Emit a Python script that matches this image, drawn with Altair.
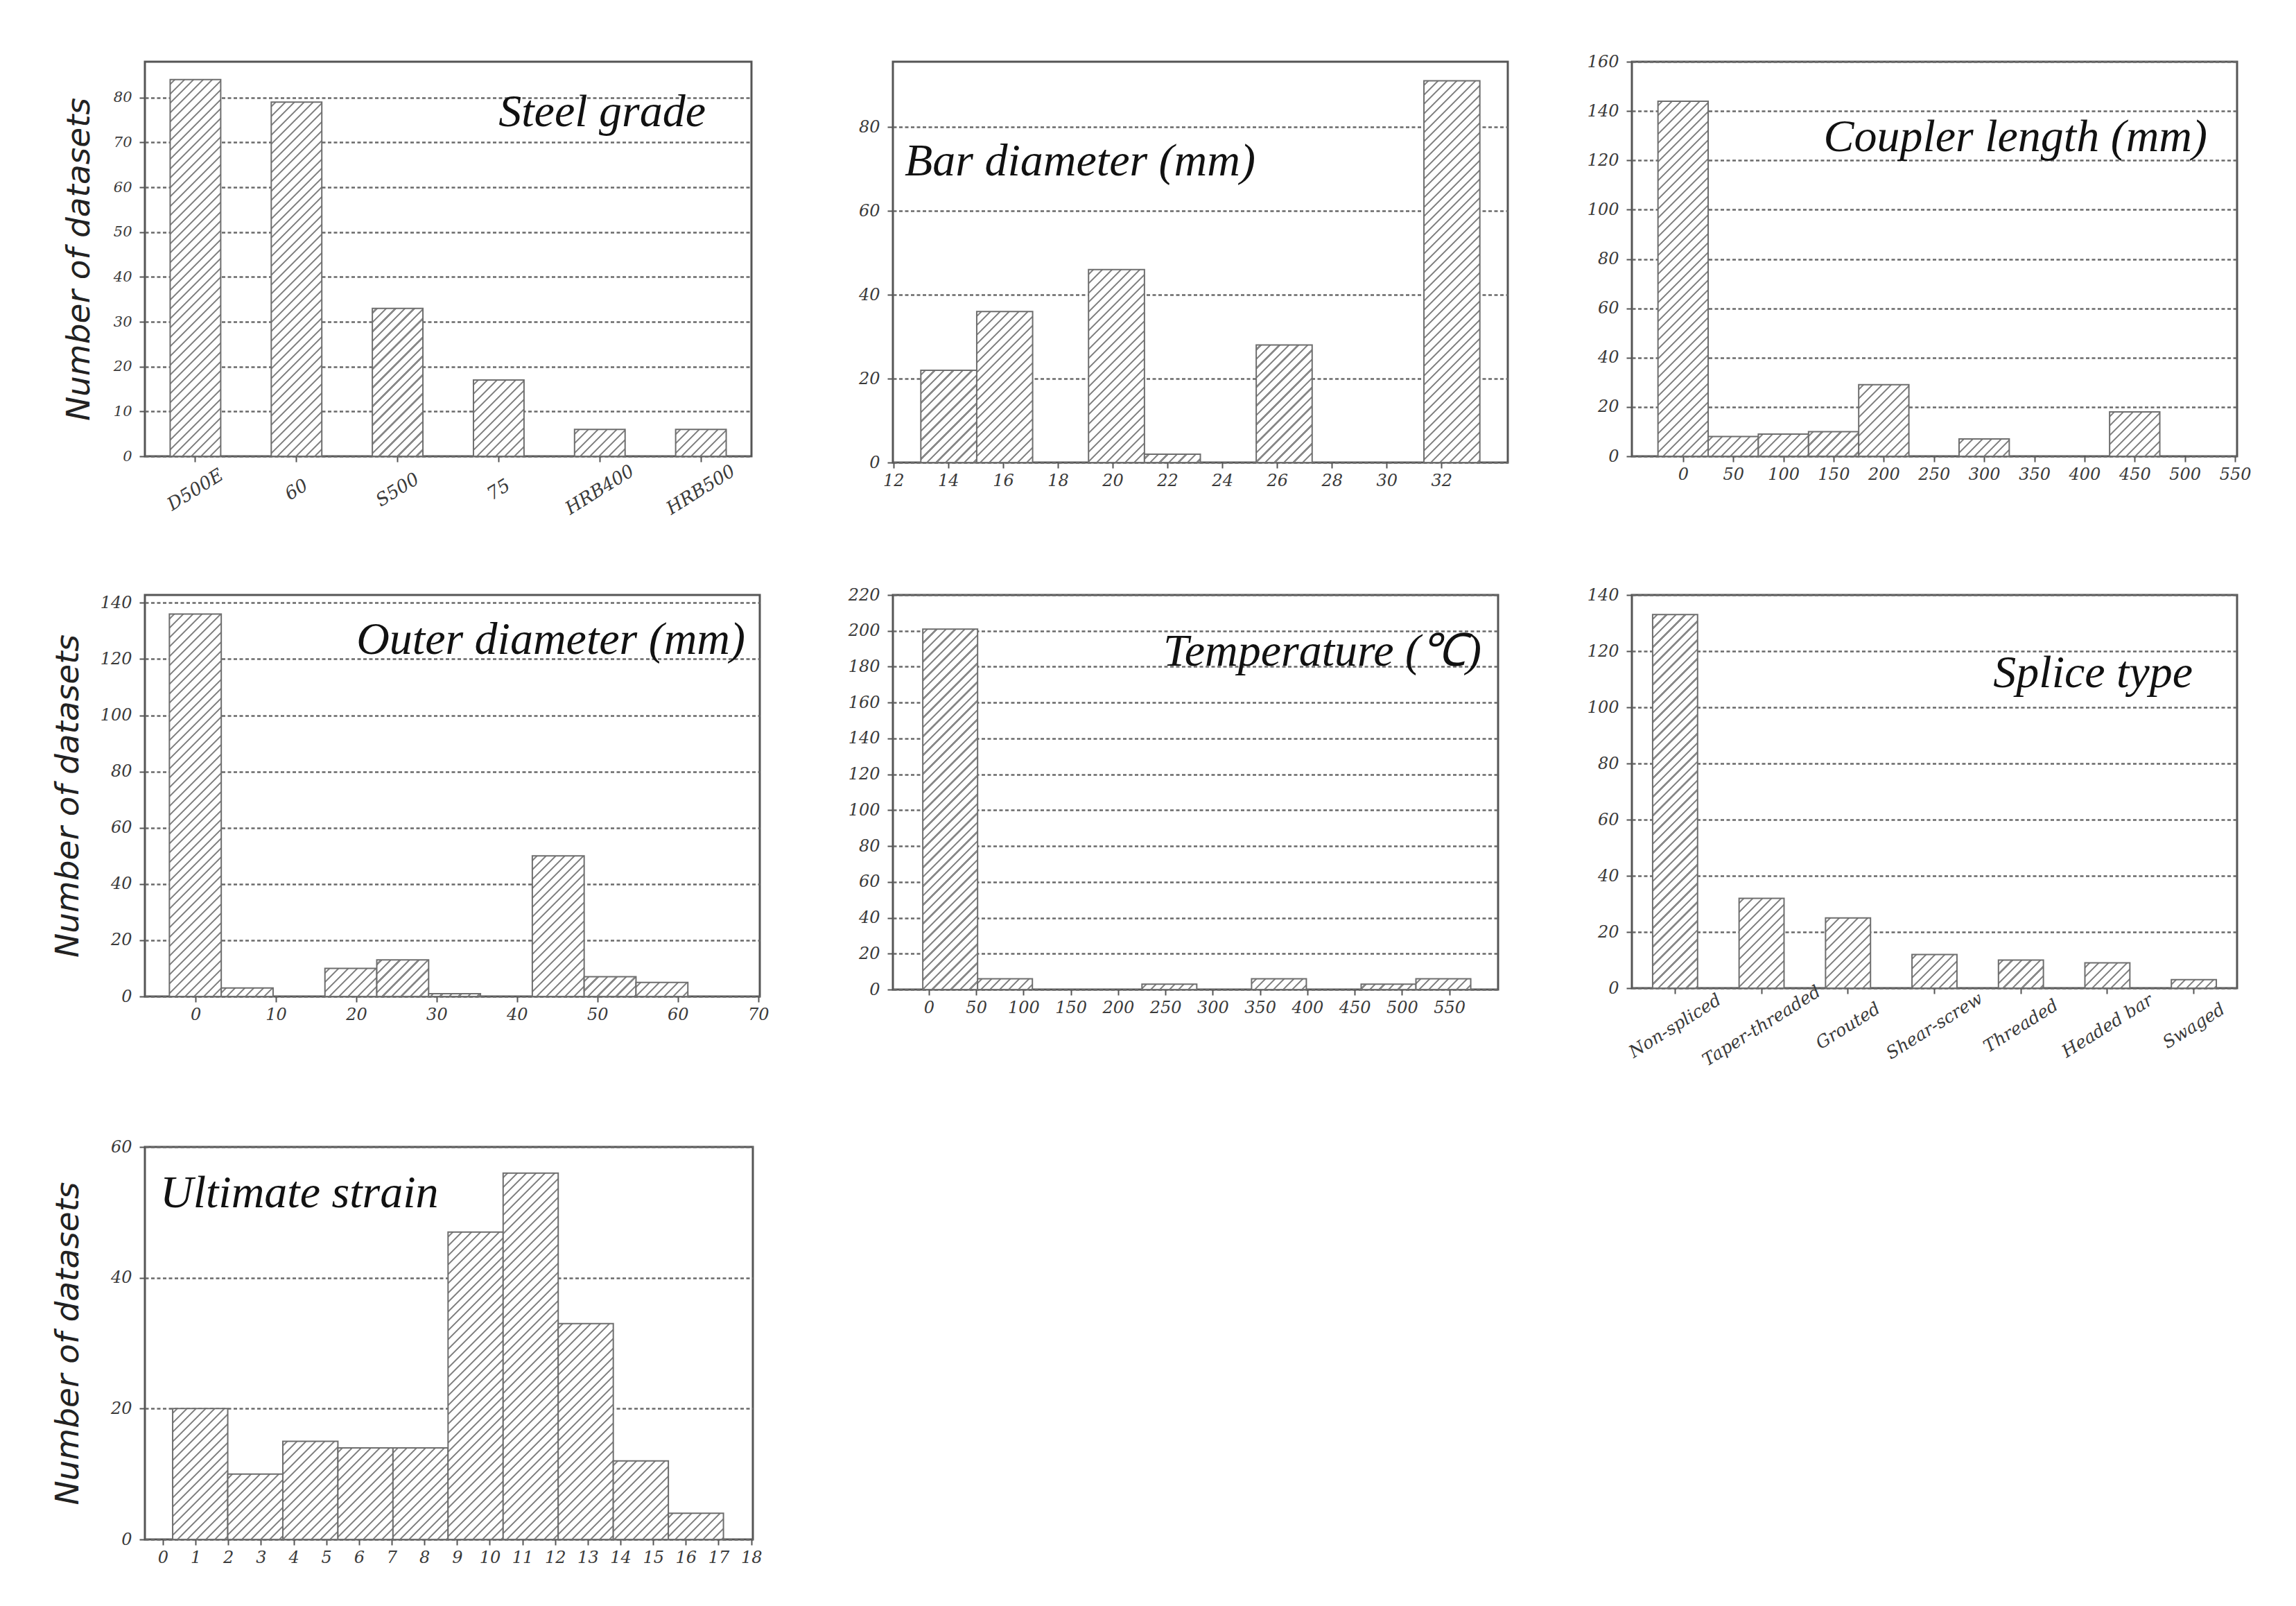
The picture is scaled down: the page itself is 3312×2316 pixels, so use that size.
import math
import altair as alt

# ---------------- data ----------------
steel_cats = ["D500E", "60", "S500", "75", "HRB400", "HRB500"]
steel_vals = [84, 79, 33, 17, 6, 6]

bar_lo = [13.0, 15.04, 19.12, 21.16, 25.24, 31.36]
bar_hi = [15.04, 17.08, 21.16, 23.2, 27.28, 33.4]
bar_vals = [22, 36, 46, 2, 28, 91]

coup_lo = [-25, 25, 75, 125, 175, 275, 425]
coup_hi = [25, 75, 125, 175, 225, 325, 475]
coup_vals = [144, 8, 9, 10, 29, 7, 18]

outer_lo = [-3.25, 3.2, 16.1, 22.55, 29.0, 41.9, 48.35, 54.8]
outer_hi = [3.2, 9.65, 22.55, 29.0, 35.45, 48.35, 54.8, 61.25]
outer_vals = [136, 3, 10, 13, 1, 50, 7, 5]

temp_lo = [-6.4, 51.5, 225.2, 341.0, 456.8, 514.7]
temp_hi = [51.5, 109.4, 283.1, 398.9, 514.7, 572.6]
temp_vals = [201, 6, 3, 6, 3, 6]

splice_cats = ["Non-spliced", "Taper-threaded", "Grouted", "Shear-screw",
               "Threaded", "Headed bar", "Swaged"]
splice_vals = [133, 32, 25, 12, 10, 9, 3]

strain_lo = [0.3, 1.985, 3.67, 5.355, 7.04, 8.725, 10.41, 12.095, 13.78, 15.465]
strain_hi = [1.985, 3.67, 5.355, 7.04, 8.725, 10.41, 12.095, 13.78, 15.465, 17.15]
strain_vals = [20, 10, 15, 14, 14, 47, 56, 33, 12, 4]

# ---------------- style ----------------
HATCH_COL = "#8a8a8a"
EDGE_COL = "#6e6e6e"
LABEL_FONT = "DejaVu Serif"
TITLE_FONT = "Liberation Serif"


def hatch(w, h, hs=13.5, lw=2.2):
    """45-degree '/' hatch as a bbox-relative linear gradient."""
    tot = w + h
    lam = tot / (w * w + h * h)
    half = lw * math.sqrt(2) / 2.0 / tot
    stops = [{"offset": 0, "color": "#ffffff"}]
    t = hs * 0.5
    while t < tot:
        c = t / tot
        a = max(0.0, c - half)
        b = min(1.0, c + half)
        stops += [{"offset": a, "color": "#ffffff"}, {"offset": a, "color": HATCH_COL},
                  {"offset": b, "color": HATCH_COL}, {"offset": b, "color": "#ffffff"}]
        t += hs
    stops.append({"offset": 1, "color": "#ffffff"})
    return {"gradient": "linear", "x1": 0, "y1": 0, "x2": lam * w, "y2": lam * h, "stops": stops}


def y_axis(ticks, title=None, tx=None, H=None, lfs=24):
    kw = dict(values=ticks, grid=True, gridDash=[5, 3.5], gridColor="#6a6a6a", gridWidth=2.5,
              domain=False, ticks=True, tickSize=8, tickColor="#555555", tickWidth=2,
              labelFont=LABEL_FONT, labelFontStyle="italic", labelFontSize=lfs,
              labelColor="#3a3a3a", labelPadding=11, labelOverlap=False, format="d")
    if title:
        kw.update(title=title, titleFont="DejaVu Sans", titleFontStyle="italic",
                  titleFontWeight="normal", titleFontSize=47, titleColor="#222222",
                  titleX=tx, titleY=H / 2, titleBaseline="middle", titleAngle=270)
    else:
        kw.update(title=None)
    return alt.Axis(**kw)


def x_axis_q(ticks, lfs=24):
    return alt.Axis(values=ticks, grid=False, domain=False, tickSize=8, tickColor="#555555",
                    tickWidth=2, labelFont=LABEL_FONT, labelFontStyle="italic",
                    labelFontSize=lfs, labelColor="#3a3a3a", labelPadding=6,
                    labelFlush=False, labelOverlap=False, title=None, format="d")


def title_layer(text, tx, ty, align):
    return alt.Chart(alt.Data(values=[{"t": text}])).mark_text(
        font=TITLE_FONT, fontStyle="italic", fontSize=66, align=align,
        baseline="alphabetic", color="#111111").encode(
        text="t:N", x=alt.value(tx), y=alt.value(ty))


def hist_panel(lo, hi, vals, xdom, xticks, ydom, yticks, W, H, title, tx, ty, align,
               ytitle=None, ytx=None):
    recs = []
    for a, b, v in zip(lo, hi, vals):
        if v <= 0:
            continue
        w = (b - a) / (xdom[1] - xdom[0]) * W
        h = v / (ydom[1] - ydom[0]) * H
        recs.append({"x0": a, "x1": b, "v": v, "z": 0, "g": hatch(w, h)})
    bars = alt.Chart(alt.Data(values=recs)).mark_rect(
        stroke=EDGE_COL, strokeWidth=2).encode(
        x=alt.X("x0:Q", scale=alt.Scale(domain=xdom, nice=False, zero=False),
                axis=x_axis_q(xticks)),
        x2="x1:Q",
        y=alt.Y("v:Q", scale=alt.Scale(domain=ydom, nice=False),
                axis=y_axis(yticks, ytitle, ytx, H)),
        y2="z:Q",
        fill=alt.Fill("g:N", scale=None))
    return alt.layer(bars, title_layer(title, tx, ty, align)).properties(width=W, height=H)


def cat_panel(cats, vals, pin, ydom, yticks, W, H, title, tx, ty, align, lfs, lpad,
              ytitle=None, ytx=None, ylfs=24):
    bw = W / len(cats) * (1 - pin)
    recs = []
    for c, v in zip(cats, vals):
        h = v / (ydom[1] - ydom[0]) * H
        recs.append({"c": c, "v": v, "g": hatch(bw, h)})
    bars = alt.Chart(alt.Data(values=recs)).mark_bar(
        stroke=EDGE_COL, strokeWidth=2).encode(
        x=alt.X("c:N", sort=cats,
                scale=alt.Scale(paddingInner=pin, paddingOuter=pin / 2),
                axis=alt.Axis(title=None, domain=False, tickSize=8, tickColor="#555555",
                              tickWidth=2, labelFont=LABEL_FONT, labelFontStyle="italic",
                              labelFontSize=lfs, labelColor="#3a3a3a", labelAngle=328,
                              labelAlign="center", labelBaseline="middle",
                              labelPadding=lpad, labelOverlap=False, labelLimit=0)),
        y=alt.Y("v:Q", scale=alt.Scale(domain=ydom, nice=False),
                axis=y_axis(yticks, ytitle, ytx, H, ylfs)),
        fill=alt.Fill("g:N", scale=None))
    return alt.layer(bars, title_layer(title, tx, ty, align)).properties(width=W, height=H)


YT = "Number of datasets"

p1 = cat_panel(steel_cats, steel_vals, 0.5, [0, 88], list(range(0, 81, 10)), 875, 569,
               "Steel grade", 875 - 66, 93, "right", 26, 40, YT, -95, ylfs=21)
p2 = hist_panel(bar_lo, bar_hi, bar_vals, [11.98, 34.42], list(range(12, 33, 2)),
                [0, 95.55], [0, 20, 40, 60, 80], 887, 578,
                "Bar diameter (mm)", 17, 164, "left")
p3 = hist_panel(coup_lo, coup_hi, coup_vals, [-51, 552], list(range(0, 551, 50)),
                [0, 160], list(range(0, 161, 20)), 873, 569,
                "Coupler length (mm)", 873 - 43, 129, "right")
p4 = hist_panel(outer_lo, outer_hi, outer_vals, [-6.3, 70.2], list(range(0, 71, 10)),
                [0, 142.8], list(range(0, 141, 20)), 887, 579,
                "Outer diameter (mm)", 887 - 21, 85, "right", YT, -111)
p5 = hist_panel(temp_lo, temp_hi, temp_vals, [-38, 601.5], list(range(0, 551, 50)),
                [0, 220], list(range(0, 221, 20)), 873, 569,
                "Temperature (\u2103)", 873 - 24, 102, "right")
p6 = cat_panel(splice_cats, splice_vals, 0.48, [0, 140], list(range(0, 141, 20)), 873, 567,
               "Splice type", 873 - 64, 133, "right", 25, 46)
p7 = hist_panel(strain_lo, strain_hi, strain_vals, [-0.55, 18.05], list(range(0, 19)),
                [0, 60], [0, 20, 40, 60], 877, 566,
                "Ultimate strain", 22, 87, "left", YT, -111)

chart = alt.concat(p1, p2, p3, p4, p5, p6, p7, columns=3,
                   spacing={"row": 96, "column": 110}, bounds="full").properties(
    padding={"left": 64, "top": 67, "right": 5, "bottom": 5},
    background="#ffffff",
).configure_view(stroke="#555555", strokeWidth=3)

chart.save("out.html", embed_options={"renderer": "svg", "actions": False})
